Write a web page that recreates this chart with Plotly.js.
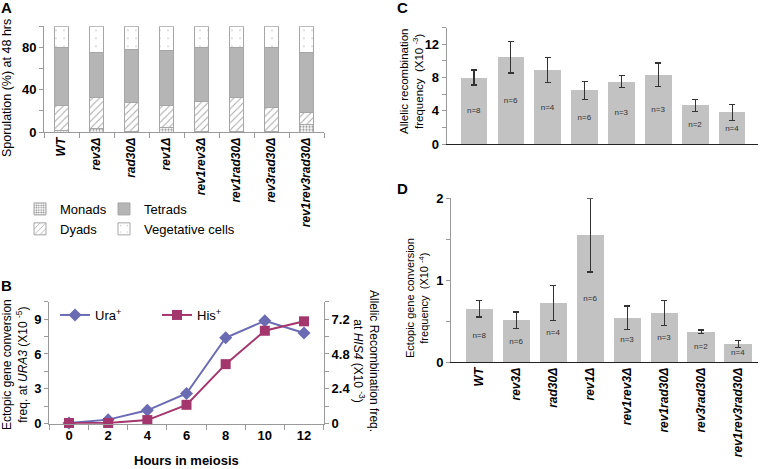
<!DOCTYPE html>
<html><head><meta charset="utf-8">
<script src="https://cdn.plot.ly/plotly-3.0.1.min.js"></script>
<style>html,body{margin:0;padding:0;background:#fff}#chart{width:760px;height:469px}</style>
</head><body><div id="chart"></div>
<script>
// ---- Panel A: sporulation at 48 hrs (segment heights, %)
const strains = ['WT','rev3Δ','rad30Δ','rev1Δ','rev1rev3Δ','rev1rad30Δ','rev3rad30Δ','rev1rev3rad30Δ'];
const monads     = [1, 3, 0.5, 4, 0.5, 0.5, 0.5, 7];
const dyads      = [24, 29.5, 27, 21, 28, 32, 23, 11];
const tetrads    = [55, 43, 50.5, 52, 51.5, 47.5, 56.5, 57.5];
const vegetative = [20, 24.5, 22, 23, 20, 20, 20, 24.5];

// ---- Panel B: time course
const hours   = ['0','2','4','6','8','10','12'];
const uraFreq = [0.05, 0.35, 1.15, 2.6, 7.4, 8.85, 7.8];   // x10^-5
const hisFreq = [0.05, 0.05, 0.25, 1.3, 4.1, 6.4, 7.05];   // x10^-3

// ---- Panel C: allelic recombination
const allelicMean = [8.0, 10.45, 8.9, 6.45, 7.5, 8.35, 4.65, 3.8];
const allelicErr  = [0.9, 1.9, 1.5, 1.05, 0.7, 1.4, 0.7, 1.0];
const allelicN    = ['n=8','n=6','n=4','n=6','n=3','n=3','n=2','n=4'];

// ---- Panel D: ectopic gene conversion
const ectopicMean = [0.65, 0.51, 0.72, 1.55, 0.54, 0.60, 0.37, 0.22];
const ectopicErr  = [0.10, 0.10, 0.21, 0.45, 0.145, 0.155, 0.02, 0.04];
const ectopicN    = ['n=8','n=6','n=4','n=6','n=3','n=3','n=2','n=4'];

const FONT = 'Liberation Sans, Arial, sans-serif';
const W = 760, H = 469;
const px = v => v / W;
const py = v => 1 - v / H;
const axGray = '#9a9a9a';
const barOutline = {color: '#a6a6a6', width: 1};

const traces = [
  {type:'bar', name:'Monads', x:strains, y:monads, xaxis:'x', yaxis:'y', width:0.4, legend:'legend',
   marker:{color:'#ffffff', line:barOutline, pattern:{shape:'.', fgcolor:'#8a8a8a', bgcolor:'#ffffff', size:3, solidity:0.4}}},
  {type:'bar', name:'Dyads', x:strains, y:dyads, xaxis:'x', yaxis:'y', width:0.4, legend:'legend',
   marker:{color:'#ffffff', line:barOutline, pattern:{shape:'/', fgcolor:'#a8a8a8', bgcolor:'#ffffff', size:5, solidity:0.2}}},
  {type:'bar', name:'Tetrads', x:strains, y:tetrads, xaxis:'x', yaxis:'y', width:0.4, legend:'legend2',
   marker:{color:'#b5b5b5', line:barOutline}},
  {type:'bar', name:'Vegetative cells', x:strains, y:vegetative, xaxis:'x', yaxis:'y', width:0.4, legend:'legend2',
   marker:{color:'#ffffff', line:barOutline, pattern:{shape:'.', fgcolor:'#b8b8b8', bgcolor:'#ffffff', size:8, solidity:0.03}}},

  {type:'scatter', mode:'lines+markers', name:'Ura<sup>+</sup>', x:hours, y:uraFreq, xaxis:'x2', yaxis:'y2', legend:'legend3',
   line:{color:'#6b6bb3', width:2}, marker:{symbol:'diamond', size:10, color:'#6b6bb3'}, cliponaxis:false},
  {type:'scatter', mode:'lines+markers', name:'His<sup>+</sup>', x:hours, y:hisFreq, xaxis:'x2', yaxis:'y3', legend:'legend3',
   line:{color:'#a3366d', width:2}, marker:{symbol:'square', size:10, color:'#a3366d'}, cliponaxis:false},

  {type:'bar', x:strains, y:allelicMean, xaxis:'x3', yaxis:'y4', width:0.72, showlegend:false,
   marker:{color:'#c2c2c2'}, text:allelicN, textposition:'inside', insidetextanchor:'middle', textangle:0,
   textfont:{family:FONT, size:8, color:'#333'},
   error_y:{type:'data', array:allelicErr, visible:true, color:'#333', thickness:1.2, width:3}},
  {type:'bar', x:strains, y:ectopicMean, xaxis:'x4', yaxis:'y5', width:0.74, showlegend:false,
   marker:{color:'#c2c2c2'}, text:ectopicN, textposition:'inside', insidetextanchor:'middle', textangle:0,
   textfont:{family:FONT, size:8, color:'#333'},
   error_y:{type:'data', array:ectopicErr, visible:true, color:'#333', thickness:1.2, width:3}}
];

const tickB = {family:FONT, size:13, color:'#000', weight:'bold'};
const tickBI = {family:FONT, size:12, color:'#000', weight:'bold', style:'italic'};
const yBase = {showline:true, linecolor:axGray, ticks:'outside', ticklen:4, tickcolor:axGray, showgrid:false, zeroline:false, tickfont:tickB, fixedrange:true};

function note(text, x, y, size, angle) {
  return {text: text, x: px(x), y: py(y), xref:'paper', yref:'paper', xanchor:'center', yanchor:'middle',
          showarrow:false, textangle: angle || 0, font:{family:FONT, size:size, color:'#000'}};
}

const layout = {
  width:W, height:H, margin:{l:0,r:0,t:0,b:0}, paper_bgcolor:'#fff', plot_bgcolor:'rgba(0,0,0,0)',
  font:{family:FONT, size:12, color:'#000'}, barmode:'stack', bargap:0,
  xaxis:{domain:[px(44), px(324)], anchor:'y', type:'category', tickson:'boundaries', ticks:'outside', ticklen:5,
         tickcolor:axGray, showline:true, linecolor:axGray, tickangle:-90, tickfont:tickBI, showgrid:false},
  yaxis:Object.assign({}, yBase, {domain:[py(132), py(26.3)], anchor:'x', range:[0,100], tick0:0, dtick:40,
         minor:{dtick:20, tick0:0, ticks:'outside', ticklen:4, tickcolor:axGray}}),

  xaxis2:{domain:[px(49), px(324)], anchor:'y2', type:'category', tickson:'boundaries', ticks:'outside', ticklen:5,
          tickcolor:axGray, showline:true, linecolor:axGray, tickfont:tickB, showgrid:false},
  yaxis2:Object.assign({}, yBase, {domain:[py(423.7), py(301.7)], anchor:'x2', range:[0,10.5], tick0:0, dtick:3,
          minor:{dtick:1.5, tick0:0, ticks:'outside', ticklen:4, tickcolor:axGray}}),
  yaxis3:Object.assign({}, yBase, {overlaying:'y2', side:'right', anchor:'x2', range:[0,8.4], tick0:0, dtick:2.4,
          minor:{dtick:1.2, tick0:0, ticks:'outside', ticklen:4, tickcolor:axGray}}),

  xaxis3:{domain:[px(446.7), px(758)], anchor:'y4', type:'category', range:[-0.74, 7.70], showline:true, linecolor:'#222',
          ticks:'', showticklabels:false, showgrid:false},
  yaxis4:Object.assign({}, yBase, {domain:[py(144), py(27.7)], anchor:'x3', range:[0,14], tick0:0, dtick:4,
          minor:{dtick:2, tick0:0, ticks:'outside', ticklen:4, tickcolor:axGray}}),

  xaxis4:{domain:[px(451), px(757.7)], anchor:'y5', type:'category', range:[-0.77, 7.53], showline:true, linecolor:'#222',
          ticks:'', tickangle:-90, tickfont:tickBI, showgrid:false},
  yaxis5:Object.assign({}, yBase, {domain:[py(362), py(198.3)], anchor:'x4', range:[0,2], tick0:0, dtick:1,
          minor:{dtick:0.5, tick0:0, ticks:'outside', ticklen:4, tickcolor:axGray}}),

  legend:{x:px(20), y:py(194), xanchor:'left', yanchor:'top', traceorder:'normal', bgcolor:'rgba(0,0,0,0)',
          font:{family:FONT, size:13, color:'#000'}, tracegroupgap:0},
  legend2:{x:px(104), y:py(194), xanchor:'left', yanchor:'top', traceorder:'normal', bgcolor:'rgba(0,0,0,0)',
          font:{family:FONT, size:13, color:'#000'}, tracegroupgap:0},
  legend3:{x:px(55), y:py(300), xanchor:'left', yanchor:'top', orientation:'h', traceorder:'normal', bgcolor:'rgba(0,0,0,0)',
          font:{family:FONT, size:13, color:'#000'}, entrywidth:57, entrywidthmode:'pixels'},

  annotations:[
    note('<b>A</b>', 6, 7, 15),
    note('<b>B</b>', 6, 285, 15),
    note('<b>C</b>', 402, 8, 15),
    note('<b>D</b>', 402, 188, 15),
    note('Sporulation (%) at 48 hrs', 7, 88, 12.5, -90),
    note('Ectopic gene conversion<br>freq. at <i>URA3</i> (X10 <sup>-5</sup>)', 15, 365, 12, -90),
    note('Allelic Recombination freq.<br>at <i>HIS4</i> (X10 <sup>-3</sup>)', 366, 361, 12, 90),
    note('<b>Hours in meiosis</b>', 186, 460, 13),
    note('Allelic recombination<br>frequency  (X10 <sup>-3</sup>)', 412, 82, 11.5, -90),
    note('Ectopic gene conversion<br>frequency  (X10 <sup>-4</sup>)', 417, 298, 11, -90)
  ]
};

Plotly.newPlot('chart', traces, layout, {displayModeBar:false, staticPlot:true});
</script>
</body></html>
